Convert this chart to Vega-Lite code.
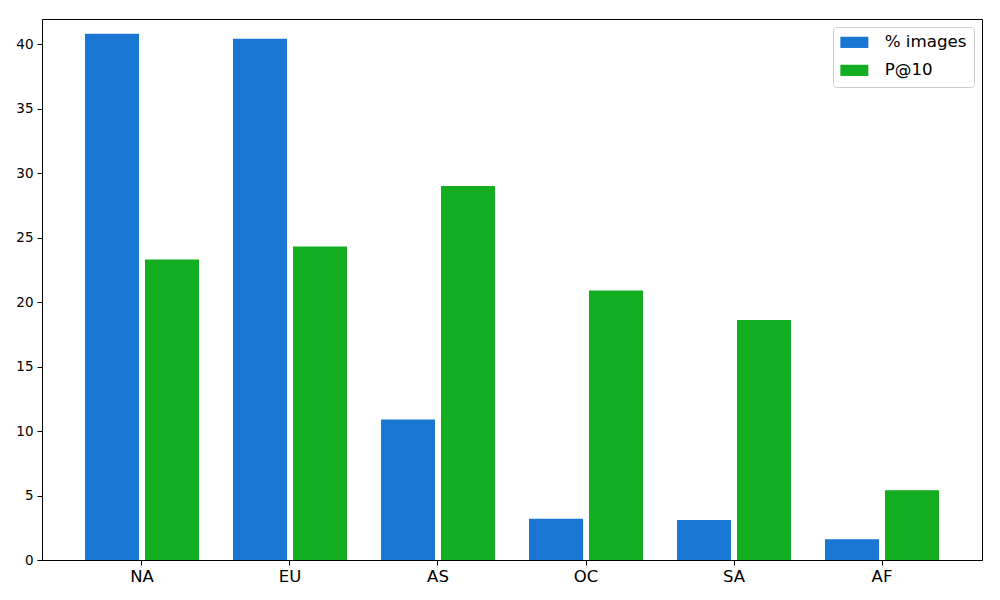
{
  "$schema": "https://vega.github.io/schema/vega-lite/v6.json",
  "width": 940,
  "height": 541,
  "autosize": {"type": "none"},
  "padding": {"left": 42, "top": 19, "right": 18, "bottom": 40},
  "background": "white",
  "config": {
    "font": "DejaVu Sans",
    "view": {"stroke": "black", "strokeWidth": 1},
    "axis": {"grid": false, "domainColor": "black", "tickColor": "black", "labelColor": "black", "tickSize": 5, "labelPadding": 4, "domain": true}
  },
  "data": {
    "values": [
      {"region": "NA", "metric": "% images", "value": 40.8},
      {"region": "NA", "metric": "P@10", "value": 23.3},
      {"region": "EU", "metric": "% images", "value": 40.4},
      {"region": "EU", "metric": "P@10", "value": 24.3},
      {"region": "AS", "metric": "% images", "value": 10.9},
      {"region": "AS", "metric": "P@10", "value": 29.0},
      {"region": "OC", "metric": "% images", "value": 3.2},
      {"region": "OC", "metric": "P@10", "value": 20.9},
      {"region": "SA", "metric": "% images", "value": 3.1},
      {"region": "SA", "metric": "P@10", "value": 18.6},
      {"region": "AF", "metric": "% images", "value": 1.6},
      {"region": "AF", "metric": "P@10", "value": 5.4}
    ]
  },
  "mark": {"type": "bar"},
  "encoding": {
    "x": {
      "field": "region",
      "type": "nominal",
      "sort": ["NA", "EU", "AS", "OC", "SA", "AF"],
      "scale": {"paddingInner": 0.2297, "paddingOuter": 0.2905},
      "axis": {"title": null, "labelAngle": 0, "labelFontSize": 16.5, "labelPadding": 3}
    },
    "xOffset": {
      "field": "metric",
      "type": "nominal",
      "sort": ["% images", "P@10"],
      "scale": {"paddingInner": 0.1, "paddingOuter": 0}
    },
    "y": {
      "field": "value",
      "type": "quantitative",
      "scale": {"domain": [0, 41.94], "nice": false},
      "axis": {"title": null, "values": [0, 5, 10, 15, 20, 25, 30, 35, 40], "labelFontSize": 13.5}
    },
    "color": {
      "field": "metric",
      "type": "nominal",
      "sort": ["% images", "P@10"],
      "scale": {"domain": ["% images", "P@10"], "range": ["#1976d2", "#12ad21"]},
      "legend": {
        "title": null,
        "orient": "top-right",
        "offset": 8,
        "padding": 7,
        "fillColor": "white",
        "strokeColor": "#cccccc",
        "cornerRadius": 3,
        "labelFontSize": 16.7,
        "labelColor": "black",
        "symbolType": "M-2,-0.8H2V0.8H-2Z",
        "symbolSize": 196,
        "symbolStrokeWidth": 0,
        "symbolOpacity": 1,
        "symbolOffset": 6,
        "labelOffset": 22,
        "rowPadding": 10
      }
    }
  }
}
